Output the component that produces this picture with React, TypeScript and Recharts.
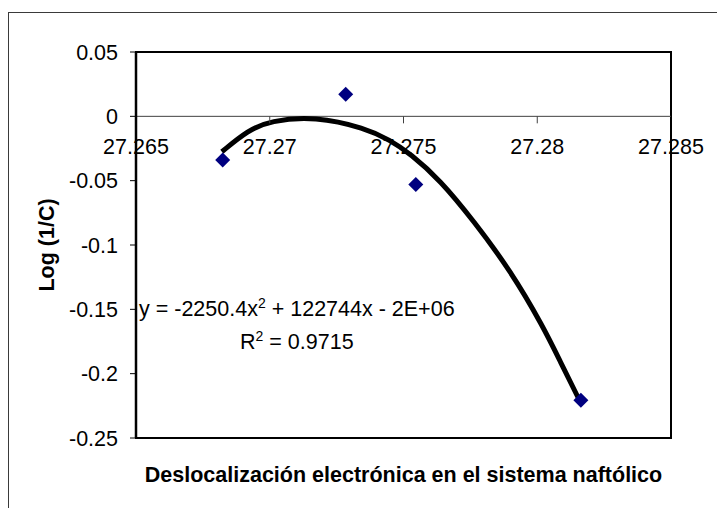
// Log(1/C) vs deslocalización electrónica, con línea de tendencia polinómica

import React from 'react';
import {
  ComposedChart,
  XAxis,
  YAxis,
  Scatter,
  Line,
  ReferenceLine,
  ReferenceArea,
  Customized,
} from 'recharts';

// puntos medidos
const xValues = [27.26824, 27.27284, 27.27546, 27.28163];
const yValues = [-0.034, 0.0171, -0.0529, -0.2207];

// línea de tendencia
const trendX = [27.26821, 27.2692, 27.27001, 27.2717, 27.27357, 27.2745, 27.27525, 27.27637, 27.27762, 27.27899, 27.28023, 27.28086, 27.28161];
const trendY = [-0.0275, -0.0107, -0.0035, 0.0, -0.0092, -0.0185, -0.029, -0.0495, -0.0812, -0.1196, -0.1637, -0.1906, -0.222];

const xTicks = [27.265, 27.27, 27.275, 27.28, 27.285];
const yTicks = [-0.25, -0.2, -0.15, -0.1, -0.05, 0, 0.05];

const W = 717;
const H = 508;
const PLOT_TOP = 52;
const PLOT_LEFT = 136;
const PLOT_RIGHT = 671;
const PLOT_BOTTOM = 438;
const X_MIN = 27.265;
const X_MAX = 27.285;
const Y_MIN = -0.25;
const Y_MAX = 0.05;
const ZERO_Y = PLOT_TOP + ((PLOT_BOTTOM - PLOT_TOP) * (Y_MAX - 0)) / (Y_MAX - Y_MIN);

const FONT = '"Liberation Sans", Arial, sans-serif';
const FS = 21.5;

const points = xValues.map((x, i) => ({ x, y: yValues[i] }));
const trend = trendX.map((x, i) => ({ x, t: trendY[i] }));

const fmt = (v: number) => String(parseFloat(v.toFixed(4)));

const Diamond = (props: any) => {
  const { cx, cy } = props;
  const r = 7.5;
  return (
    <polygon
      points={`${cx},${cy - r} ${cx + r},${cy} ${cx},${cy + r} ${cx - r},${cy}`}
      fill="#000080"
    />
  );
};

const XTick = (props: any) => {
  const { x, payload } = props;
  const inner = payload.value > X_MIN + 1e-9 && payload.value < X_MAX - 1e-9;
  return (
    <g>
      {inner && <line x1={x} x2={x} y1={ZERO_Y} y2={ZERO_Y + 7} stroke="#404040" strokeWidth={1} />}
      <text x={x} y={ZERO_Y + 38} textAnchor="middle" fontSize={FS} fontFamily={FONT} fill="#000">
        {fmt(payload.value)}
      </text>
    </g>
  );
};

const Texts = () => (
  <g fontFamily={FONT} fill="#000">
    <text x={139} y={316} fontSize={FS}>
      y = -2250.4x<tspan dy={-8} fontSize={14}>2</tspan>
      <tspan dy={8}> + 122744x - 2E+06</tspan>
    </text>
    <text x={240} y={349} fontSize={FS}>
      R<tspan dy={-8} fontSize={14}>2</tspan>
      <tspan dy={8}> = 0.9715</tspan>
    </text>
    <text x={(PLOT_LEFT + PLOT_RIGHT) / 2} y={482} fontSize={FS} fontWeight="bold" textAnchor="middle">
      Deslocalización electrónica en el sistema naftólico
    </text>
    <text
      x={0}
      y={0}
      fontSize={FS}
      fontWeight="bold"
      textAnchor="middle"
      transform={`translate(54, 245) rotate(-90)`}
    >
      Log (1/C)
    </text>
  </g>
);

export default function App() {
  return (
    <div style={{ position: 'absolute', left: 0, top: 0, width: W, height: H, background: '#fff' }}>
      <div
        style={{
          position: 'absolute',
          left: 8,
          top: 12,
          right: 0,
          bottom: 0,
          borderLeft: '1.5px solid #3a3a3a',
          borderTop: '1.5px solid #3a3a3a',
        }}
      />
      <ComposedChart
        width={W}
        height={H}
        margin={{ top: PLOT_TOP, right: W - PLOT_RIGHT, bottom: 0, left: 0 }}
        style={{ position: 'absolute', left: 0, top: 0 }}
      >
        <XAxis
          type="number"
          dataKey="x"
          domain={[X_MIN, X_MAX]}
          ticks={xTicks}
          height={H - PLOT_BOTTOM}
          axisLine={false}
          tickLine={false}
          tick={<XTick />}
          allowDataOverflow
        />
        <YAxis
          type="number"
          domain={[Y_MIN, Y_MAX]}
          ticks={yTicks}
          width={PLOT_LEFT}
          axisLine={{ stroke: '#000', strokeWidth: 2.5 }}
          tickLine={{ stroke: '#000' }}
          tickSize={6}
          tickMargin={12}
          tickFormatter={fmt}
          tick={{ fontSize: FS, fontFamily: FONT, fill: '#000' }}
          allowDataOverflow
        />
        <ReferenceArea
          x1={X_MIN}
          x2={X_MAX}
          y1={Y_MIN}
          y2={Y_MAX}
          fill="none"
          fillOpacity={0}
          stroke="#000"
          strokeWidth={2}
        />
        <ReferenceLine y={0} stroke="#404040" strokeWidth={1} />
        <Line
          data={trend}
          dataKey="t"
          type="basis"
          stroke="#000"
          strokeWidth={5}
          dot={false}
          isAnimationActive={false}
        />
        <Scatter data={points} dataKey="y" shape={<Diamond />} isAnimationActive={false} />
        <Customized component={Texts} />
      </ComposedChart>
    </div>
  );
}
